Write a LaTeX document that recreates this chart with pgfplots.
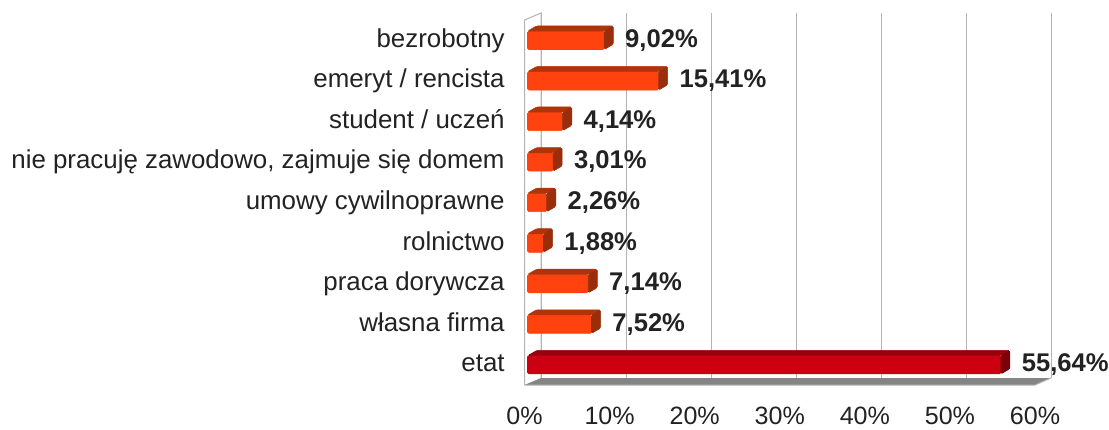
\documentclass[border=0pt]{standalone}
\usepackage{pgfplots}
\usepackage{pgfplotstable}
\usepackage{fontspec}
\setmainfont{Liberation Sans}
\pgfplotsset{compat=1.18}
\definecolor{barfront}{HTML}{FF420E}
\definecolor{bartop}{HTML}{B0340A}
\definecolor{barside}{HTML}{9A2D0A}
\definecolor{redfront}{HTML}{CC0011}
\definecolor{redtop}{HTML}{99000C}
\definecolor{redside}{HTML}{7A0009}
\definecolor{txt}{HTML}{222222}
\definecolor{gridc}{HTML}{B3B3B3}
\pgfplotstableread{
y v
8 9.02
7 15.41
6 4.14
5 3.01
4 2.26
3 1.88
2 7.14
1 7.52
}\others
\pgfplotstableread{
y v
0 55.64
}\etat
\newcommand\px{0.75pt}
% depth faces of a bar, drawn at the bar's end point
\pgfplotsset{
  depth faces/.style n args={2}{
    scatter, only marks, mark size=0pt, forget plot,
    visualization depends on={\thisrow{v} \as \barval},
    scatter/@pre marker code/.code={
      \pgfmathsetmacro\blen{\barval*8.5*0.75}
      \fill[#1,rounded corners=1pt] (-\blen pt,6.9pt) -- (0pt,6.9pt) -- (6.8pt,10.8pt) -- (-\blen pt+6.8pt,10.8pt) -- cycle;
      \fill[#2,rounded corners=1pt] (0pt,-6.9pt) -- (0pt,6.9pt) -- (6.8pt,10.8pt) -- (6.8pt,-3pt) -- cycle;
    },
    scatter/@post marker code/.code={},
  },
  front bars/.style={
    xbar, bar shift=0pt, bar width=13.8pt, draw=#1, fill=#1, rounded corners=1pt,
    nodes near coords={\pgfmathprintnumber{\pgfplotspointmeta}\%},
    point meta=x,
    every node near coord/.append style={
      anchor=west, inner sep=0pt, xshift=15.5pt, text=txt,
      text height=14pt, text depth=3.5pt,
      font=\fontsize{19.2pt}{21pt}\selectfont\bfseries,
      /pgf/number format/.cd, fixed, fixed zerofill, precision=2, use comma,
    },
  },
}
\begin{document}
\begin{tikzpicture}[x=\px,y=\px]
\useasboundingbox (0,0) rectangle (1109,429);
% floor and left wall
\fill[white] (524.5,44) -- (524.5,409) -- (541,416) -- (541,51) -- cycle;
\draw[gridc,line width=0.75pt] (524.5,44) -- (524.5,409) -- (541,416) -- (541,51);
\fill[black!48] (524.5,44) -- (541,51) -- (1051,51) -- (1035,44) -- cycle;
\draw[gridc,line width=0.75pt] (524.5,44) -- (1035,44) -- (1051,51);
\begin{axis}[
  at={(524.5*\px,44*\px)}, anchor=south west,
  scale only axis, width=510.5*\px, height=365*\px,
  xmin=0, xmax=60, ymin=-0.5, ymax=8.5,
  axis line style={draw=none},
  clip=false,
  xtick={0,10,...,60},
  xmajorgrids,
  grid style={gridc,line width=0.75pt,xshift=16.5*\px,yshift=7*\px},
  major tick length=0pt,
  xticklabel={\pgfmathprintnumber{\tick}\%},
  /pgf/number format/assume math mode=true,
  xticklabel style={text=txt,font=\fontsize{18.8pt}{21pt}\selectfont,yshift=-13pt},
  ytick={0,...,8},
  yticklabels={etat,własna firma,praca dorywcza,rolnictwo,umowy cywilnoprawne,{nie pracuję zawodowo, zajmuje się domem},student / uczeń,emeryt / rencista,bezrobotny},
  yticklabel style={text=txt,font=\fontsize{19.4pt}{21pt}\selectfont,xshift=-11.4pt,text height=14pt,text depth=3.5pt},
]
\addplot[depth faces={bartop}{barside},xshift=3*\px] table[x=v,y=y] {\others};
\addplot[depth faces={redtop}{redside},xshift=3*\px] table[x=v,y=y] {\etat};
\addplot[front bars=barfront,xshift=3*\px] table[x=v,y=y] {\others};
\addplot[front bars=redfront,xshift=3*\px] table[x=v,y=y] {\etat};
\end{axis}
\end{tikzpicture}
\end{document}
